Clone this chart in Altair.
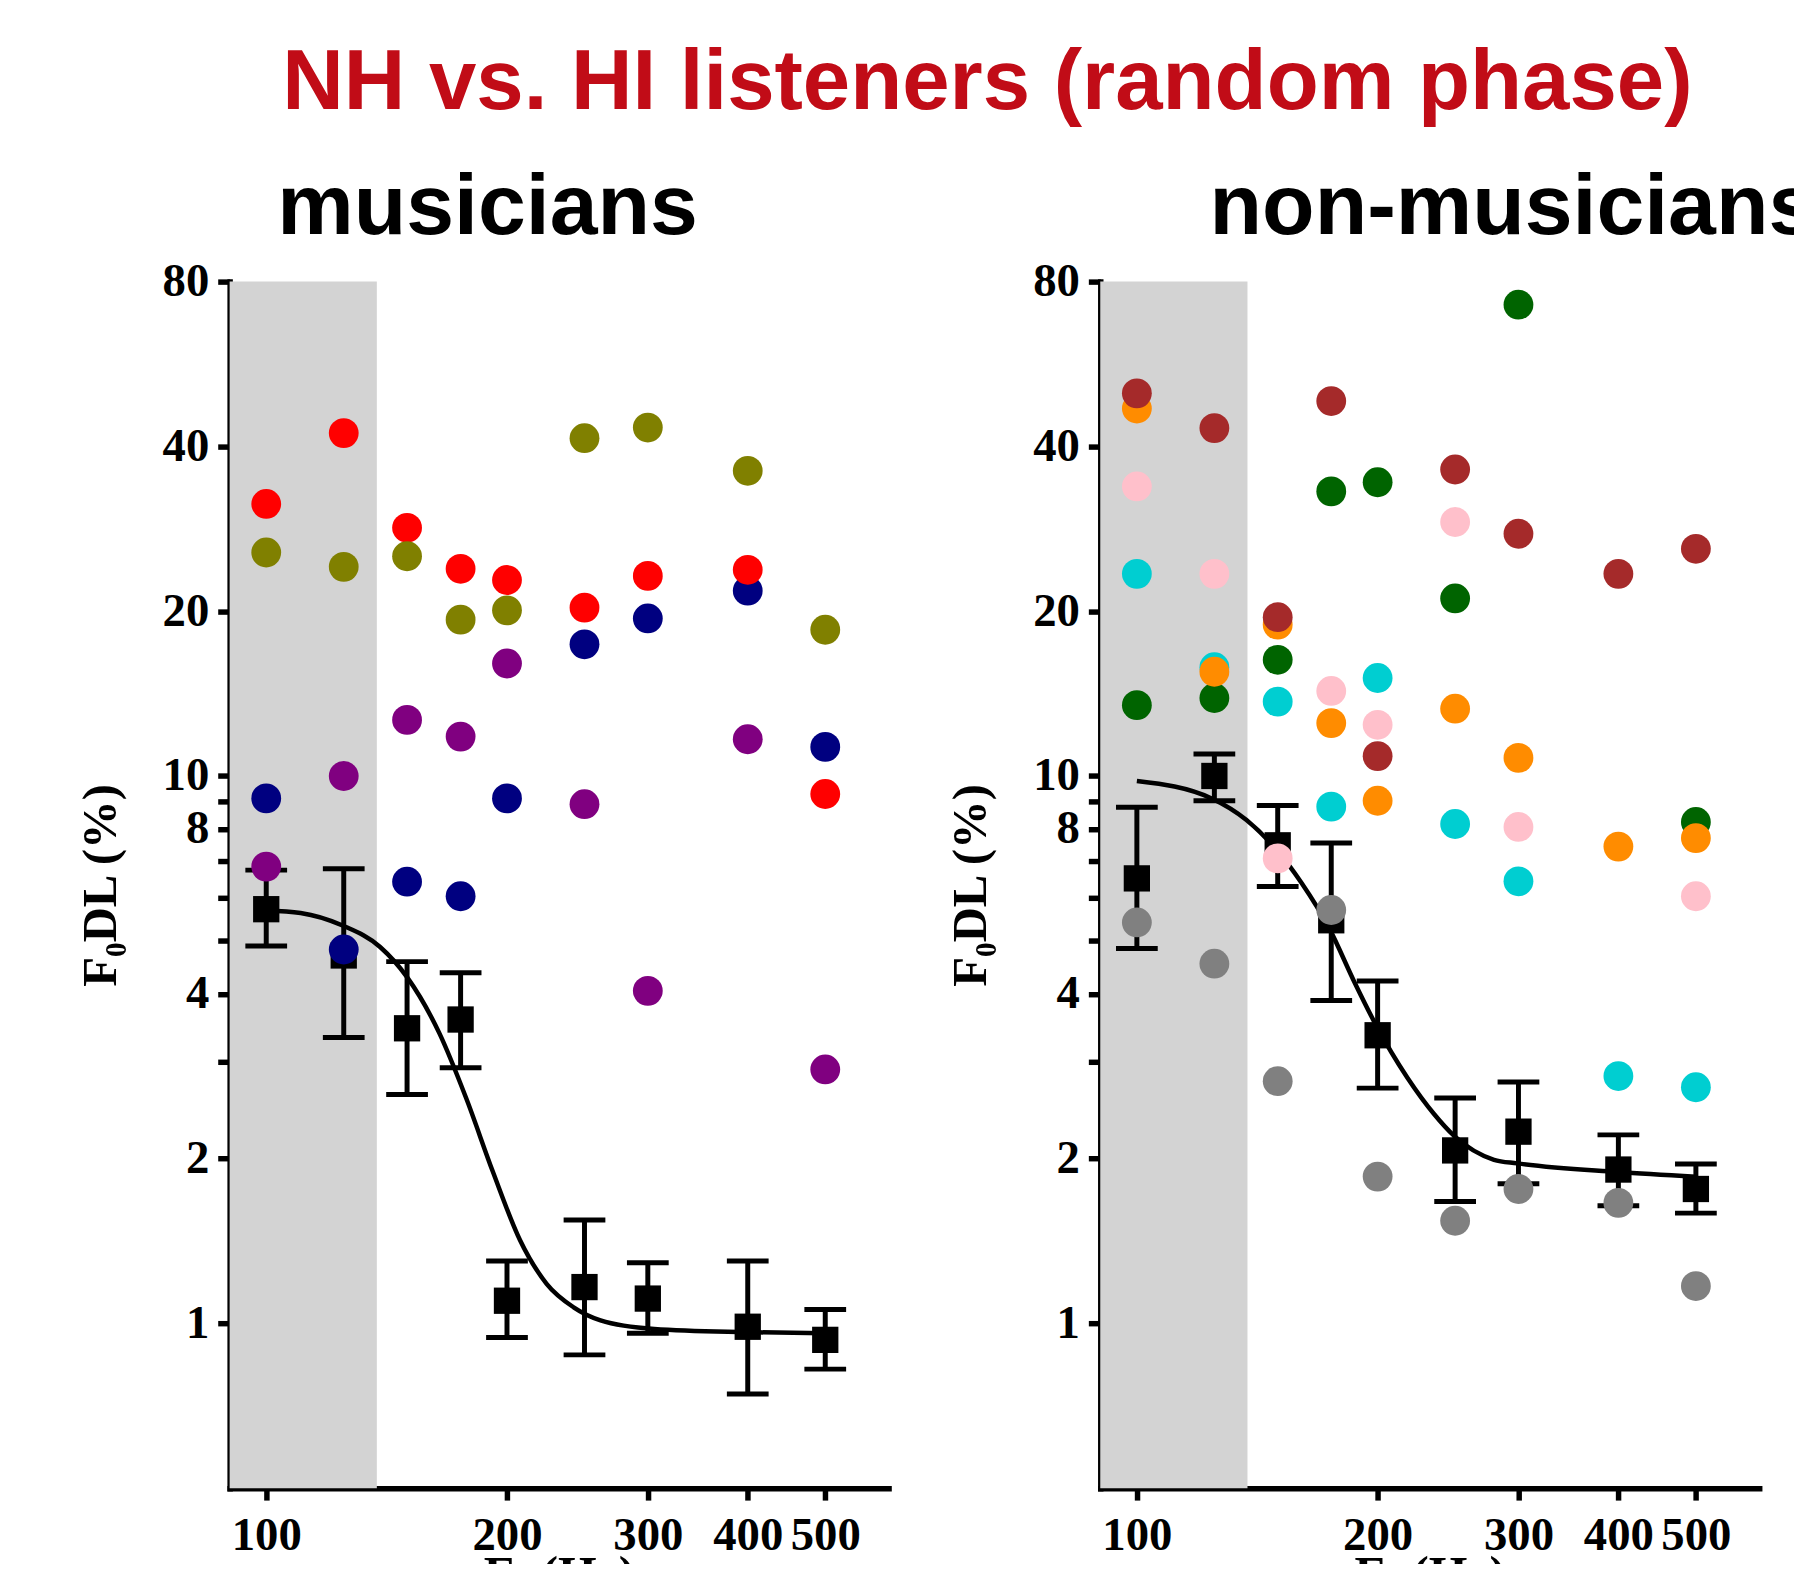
import altair as alt
import pandas as pd

# ---------------- data ----------------
F0 = [100, 125, 150, 175, 200, 250, 300, 400, 500]

# musicians: individual listeners (drawing order: purple, navy, red, olive)
mus_names = ["M-purple", "M-navy", "M-red", "M-olive"]
mus_colors = ["#800080", "#000080", "#FF0000", "#808000"]
mus_purple = [6.83, 10.0, 12.66, 11.8, 16.05, 8.88, 4.05, 11.67, 2.91]
mus_navy = [9.1, 4.82, 6.41, 6.03, 9.1, 17.4, 19.4, 21.8, 11.3]
mus_red = [31.4, 42.3, 28.4, 23.9, 22.8, 20.3, 23.2, 23.8, 9.27]
mus_olive = [25.6, 24.1, 25.2, 19.3, 20.07, 41.4, 43.3, 36.1, 18.5]
mus_mean = [5.71, 4.7, 3.46, 3.59, 1.10, 1.165, 1.11, 0.986, 0.933]
mus_hi = [6.73, 6.77, 4.58, 4.37, 1.30, 1.545, 1.29, 1.30, 1.06]
mus_lo = [4.89, 3.33, 2.62, 2.93, 0.942, 0.876, 0.959, 0.743, 0.825]
mus_fit_f0 = [100, 110.4, 124.6, 138.8, 150, 164.6, 177.8, 192.1, 207.6, 224.3, 242.3, 261.8, 305.6, 397.5, 500]
mus_fit = [5.68, 5.62, 5.33, 4.87, 4.29, 3.39, 2.58, 1.89, 1.42, 1.18, 1.07, 1.013, 0.977, 0.964, 0.959]

# non-musicians (drawing order: gray, cyan, pink, green, orange, brown)
nm_names = ["N-gray", "N-cyan", "N-pink", "N-green", "N-orange", "N-brown"]
nm_colors = ["#808080", "#00CED1", "#FFC0CB", "#006400", "#FF8C00", "#A52A2A"]
nm_gray = [5.4, 4.54, 2.77, 5.69, 1.854, 1.54, 1.76, 1.66, 1.17]
nm_cyan = [23.4, 15.8, 13.67, 8.79, 15.1, 8.17, 6.42, 2.83, 2.70]
nm_pink = [33.8, 23.4, 7.07, 14.3, 12.4, 29.1, 8.07, None, 6.03]
nm_green = [13.47, 13.88, 16.3, 33.1, 34.4, 21.1, 72.6, None, 8.24]
nm_orange = [46.9, 15.5, 18.9, 12.49, 9.01, 13.27, 10.79, 7.43, 7.7]
nm_brown = [50.0, 43.2, 19.5, 48.4, 10.87, 36.3, 27.7, 23.4, 26.0]
nm_mean = [6.5, 10.0, 7.47, 5.45, 3.36, 2.07, 2.24, 1.91, 1.76]
nm_hi = [8.77, 10.97, 8.83, 7.54, 4.22, 2.58, 2.76, 2.21, 1.955]
nm_lo = [4.84, 9.01, 6.28, 3.89, 2.69, 1.67, 1.80, 1.64, 1.59]
nm_fit_f0 = [100, 124.2, 137.1, 149.5, 160.6, 174.2, 187.1, 199, 217.9, 235.4, 249.3, 279.6, 298.8, 399.4, 500]
nm_fit = [9.79, 9.09, 8.31, 7.33, 6.38, 5.25, 4.20, 3.51, 2.81, 2.41, 2.20, 1.99, 1.96, 1.89, 1.853]

SHADE_F0 = [90, 137.5]
X_DOMAIN = [90, 600]
Y_DOMAIN = [0.5, 80]
X_TICKS = [100, 200, 300, 400, 500]
Y_TICKS = [1, 2, 3, 4, 5, 6, 7, 8, 9, 10, 20, 40, 80]
Y_LABELED = [1, 2, 4, 8, 10, 20, 40, 80]

MAIN_TITLE = "NH vs. HI listeners (random phase)"
PANEL_TITLES = ["musicians", "non-musicians"]

SERIF = "Liberation Serif"
SANS = "Liberation Sans"
W, H = 663, 1214
AX_W = 5.5

xaxis = alt.Axis(values=X_TICKS, format="d", grid=False,
                 labelFont=SERIF, labelFontWeight="bold", labelFontSize=47,
                 labelColor="black", labelPadding=13, labelFlush=False, labelOverlap=False,
                 tickSize=12, tickWidth=AX_W, tickColor="black",
                 domainWidth=AX_W, domainColor="black", domainCap="square",
                 title="F₀ (Hz)", titleFont=SERIF, titleFontWeight="bold",
                 titleFontSize=50, titleColor="black", titlePadding=-8)

ylabel_expr = "indexof(" + str(Y_LABELED) + ", datum.value) >= 0 ? datum.label : ''"
yaxis = alt.Axis(values=Y_TICKS, format="d", grid=False, labelExpr=ylabel_expr,
                 labelFont=SERIF, labelFontWeight="bold", labelFontSize=47,
                 labelColor="black", labelPadding=9, labelFlush=False, labelOverlap=False,
                 tickSize=12, tickWidth=AX_W, tickColor="black",
                 domainWidth=AX_W, domainColor="black", domainCap="square",
                 title="F₀DL (%)", titleFont=SERIF, titleFontWeight="bold",
                 titleFontSize=49, titleColor="black", titlePadding=37)

xs = alt.Scale(type="log", domain=X_DOMAIN, nice=False)
ys = alt.Scale(type="log", domain=Y_DOMAIN, nice=False)


def panel(series, names, colors, mean, lo, hi, fit_f0, fit_v, label, label_dx):
    rows = []
    for name, vals in zip(names, series):
        for f, v in zip(F0, vals):
            if v is not None:
                rows.append({"f0": f, "v": v, "who": name})
    pts = pd.DataFrame(rows)
    mean_df = pd.DataFrame({"f0": F0, "v": mean})
    err_df = pd.DataFrame({"f0": F0, "v": lo, "v_end": hi})
    cap_df = pd.DataFrame({"f0": F0 + F0, "v": lo + hi})
    fit_df = pd.DataFrame({"f0": fit_f0, "v": fit_v})
    shade_df = pd.DataFrame({"f0": [SHADE_F0[0]], "f0_end": [SHADE_F0[1]],
                             "v": [Y_DOMAIN[0]], "v_end": [Y_DOMAIN[1]]})
    x = alt.X("f0:Q", scale=xs, axis=xaxis)
    y = alt.Y("v:Q", scale=ys, axis=yaxis)

    shade = alt.Chart(shade_df).mark_rect(color="#D3D3D3").encode(
        x=x, x2="f0_end:Q", y=y, y2="v_end:Q")
    fit = alt.Chart(fit_df).mark_line(color="black", strokeWidth=4.5,
                                      interpolate="monotone").encode(x=x, y=y)
    bars = alt.Chart(err_df).mark_rule(color="black", strokeWidth=5).encode(
        x=x, y=y, y2="v_end:Q")
    caps = alt.Chart(cap_df).mark_tick(orient="horizontal", size=42, thickness=5,
                                       color="black", opacity=1).encode(x=x, y=y)
    sq = alt.Chart(mean_df).mark_square(size=700, color="black", opacity=1).encode(x=x, y=y)
    dots = alt.Chart(pts).mark_circle(size=900, opacity=1).encode(
        x=x, y=y,
        color=alt.Color("who:N", scale=alt.Scale(domain=names, range=colors), legend=None))
    ttl = alt.Chart(pd.DataFrame({"t": [label]})).mark_text(
        align="left", baseline="alphabetic", font=SANS, fontWeight="bold",
        fontSize=86.5, color="black").encode(
        x=alt.value(label_dx), y=alt.value(-48), text="t:N")
    return alt.layer(shade, fit, bars, caps, sq, dots, ttl).properties(width=W, height=H)


left = panel([mus_purple, mus_navy, mus_red, mus_olive], mus_names, mus_colors,
             mus_mean, mus_lo, mus_hi, mus_fit_f0, mus_fit, PANEL_TITLES[0], 48)
right = panel([nm_gray, nm_cyan, nm_pink, nm_green, nm_orange, nm_brown], nm_names, nm_colors,
              nm_mean, nm_lo, nm_hi, nm_fit_f0, nm_fit, PANEL_TITLES[1], 110)

chart = alt.hconcat(left, right, spacing=59).resolve_scale(color="independent").properties(
    title=alt.TitleParams(text=MAIN_TITLE, anchor="start", dx=207, offset=-29.5,
                          baseline="alphabetic", font=SANS, fontSize=85.7,
                          fontWeight="bold", color="#C10C17"),
    padding={"left": 69, "top": 27.5, "right": -23, "bottom": -41.5},
).configure_view(stroke=None).configure_axis(
    domainWidth=AX_W, tickWidth=AX_W, domainColor="black", tickColor="black")

chart.save("out.html", embed_options={"renderer": "svg", "actions": False})
